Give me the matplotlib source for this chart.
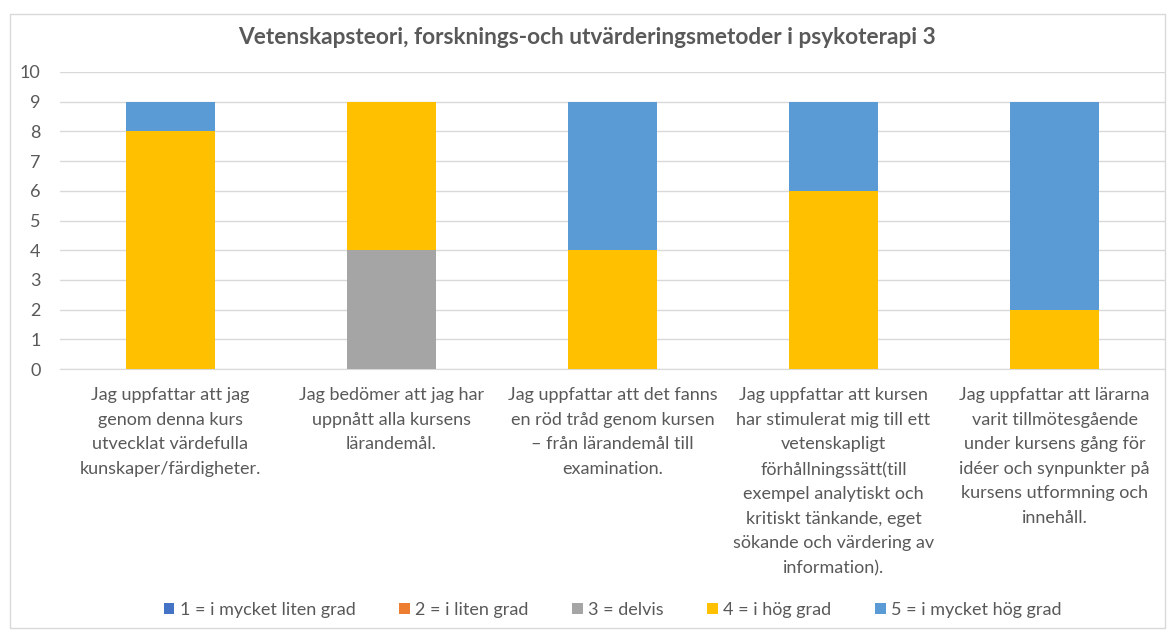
import numpy as np
import matplotlib.pyplot as plt
from matplotlib.patches import Rectangle

plt.rcParams['font.family'] = ['Lato', 'DejaVu Sans']

title = 'Vetenskapsteori, forsknings-och utvärderingsmetoder i psykoterapi 3'
categories = [
    'Jag uppfattar att jag\ngenom denna kurs\nutvecklat värdefulla\nkunskaper/färdigheter.',
    'Jag bedömer att jag har\nuppnått alla kursens\nlärandemål.',
    'Jag uppfattar att det fanns\nen röd tråd genom kursen\n– från lärandemål till\nexamination.',
    'Jag uppfattar att kursen\nhar stimulerat mig till ett\nvetenskapligt\nförhållningssätt(till\nexempel analytiskt och\nkritiskt tänkande, eget\nsökande och värdering av\ninformation).',
    'Jag uppfattar att lärarna\nvarit tillmötesgående\nunder kursens gång för\nidéer och synpunkter på\nkursens utformning och\ninnehåll.',
]
series_names = ['1 = i mycket liten grad', '2 = i liten grad', '3 = delvis',
                '4 = i hög grad', '5 = i mycket hög grad']
s1 = [0, 0, 0, 0, 0]
s2 = [0, 0, 0, 0, 0]
s3 = [0, 4, 0, 0, 0]
s4 = [8, 5, 4, 6, 2]
s5 = [1, 0, 5, 3, 7]
colors = ['#4472C4', '#ED7D31', '#A5A5A5', '#FFC000', '#5B9BD5']

fig = plt.figure(figsize=(11.74, 6.32), dpi=100)
ax = fig.add_axes([60 / 1174, 1 - 369 / 632, 1105 / 1174, 297 / 632])

x = np.arange(len(categories))
bottom = np.zeros(len(categories))
for vals, name, c in zip([s1, s2, s3, s4, s5], series_names, colors):
    ax.bar(x, vals, 0.4, bottom=bottom, color=c, label=name, zorder=3)
    bottom += np.array(vals)

ax.set_xlim(-0.5, len(categories) - 0.5)
ax.set_ylim(0, 10)
ax.set_yticks(range(0, 11))
ax.grid(axis='y', color='#D9D9D9', linewidth=1, zorder=0)
for s in ['top', 'right', 'left']:
    ax.spines[s].set_visible(False)
ax.spines['bottom'].set_color('#D9D9D9')
ax.tick_params(axis='both', length=0, colors='#595959', labelsize=13)
ax.tick_params(axis='y', pad=14)
ax.set_xticks(x)
ax.set_xticklabels(categories, fontsize=13, color='#595959', linespacing=1.66)
ax.tick_params(axis='x', pad=13)

fig.text(0.5, 1 - 38 / 632, title, ha='center', va='center', fontsize=16.3,
         fontweight='bold', color='#595959')

leg = ax.legend(loc='center', bbox_to_anchor=(0.5, (610 - 369) / -297), ncol=5,
                frameon=False, fontsize=13, handlelength=0.6, handleheight=0.6,
                columnspacing=2.4, handletextpad=0.3)
for t in leg.get_texts():
    t.set_color('#595959')

fig.patches.append(Rectangle((10 / 1174, 4 / 632), 1155 / 1174, 614 / 632,
                             transform=fig.transFigure, fill=False,
                             edgecolor='#D9D9D9', linewidth=1))

fig.savefig('out.png', dpi=100)
